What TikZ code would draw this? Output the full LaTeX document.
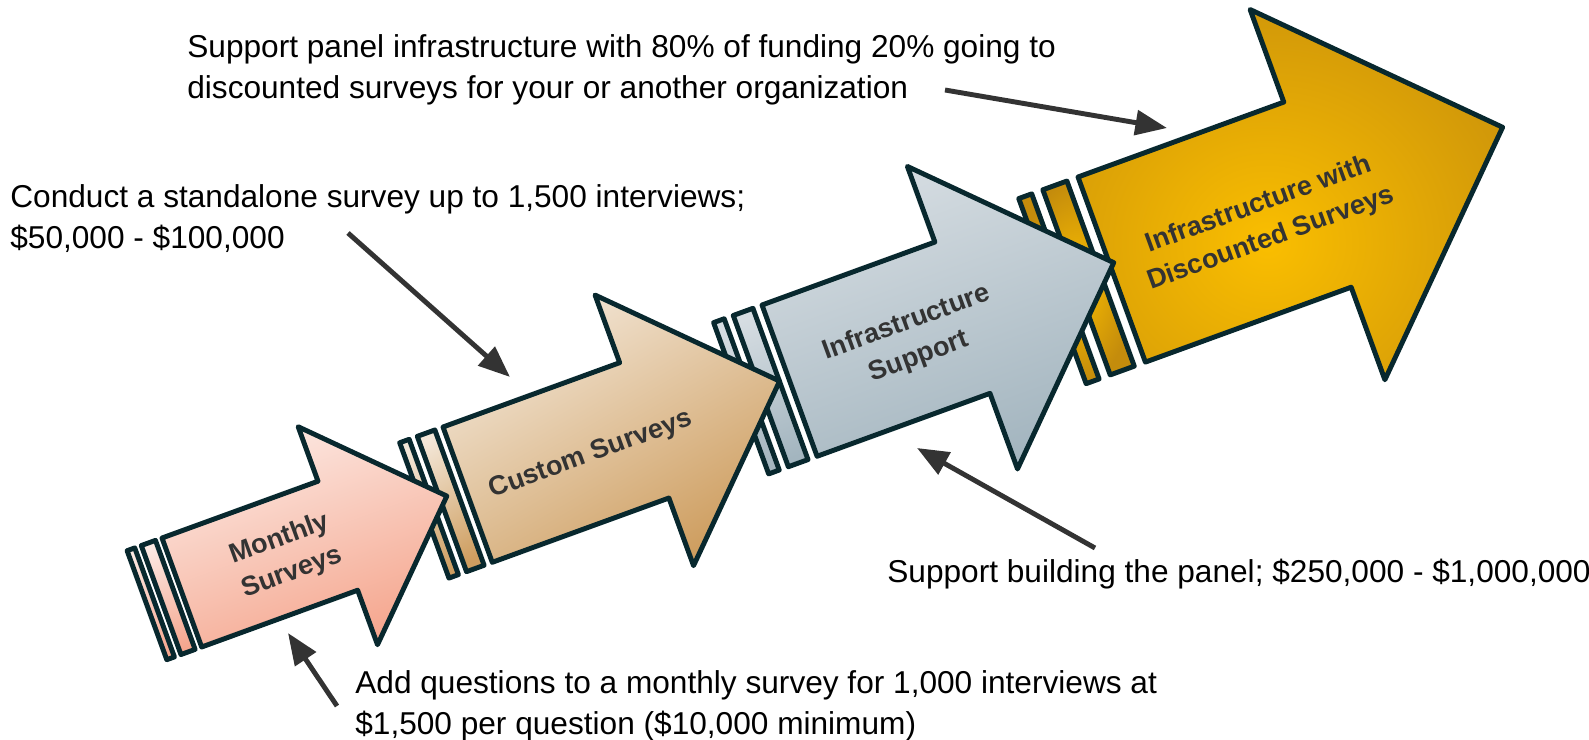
\documentclass[tikz,border=0pt]{standalone}
\usepackage{fontspec}
\setmainfont{Liberation Sans}
\usetikzlibrary{arrows.meta}
\definecolor{rim}{RGB}{8,40,46}
\definecolor{ink}{RGB}{51,51,51}
\definecolor{pinkA}{RGB}{252,233,227}
\definecolor{pinkB}{RGB}{245,166,142}
\definecolor{tanA}{RGB}{243,231,216}
\definecolor{tanB}{RGB}{206,158,96}
\definecolor{greyA}{RGB}{214,221,226}
\definecolor{greyB}{RGB}{163,181,191}
\definecolor{goldA}{RGB}{250,190,0}
\definecolor{goldB}{RGB}{196,140,12}
% arrow body: #1 = width, #2 = body length
\newcommand*{\bigarrow}[2]{(0,0) -- (#2,0) -- (#2,-#1/2) -- (#2+#1,#1/2) -- (#2,1.5*#1) -- (#2,#1) -- (0,#1) -- cycle}
\newcommand*{\stripes}[1]{(-0.32*#1,0) rectangle (-0.25*#1,#1) (-0.19*#1,0) rectangle (-0.06*#1,#1)}
\newcommand*{\notefont}{\fontsize{18pt}{23.4pt}\selectfont}
\newcommand*{\arrfont }{\fontsize{15.4pt}{20.5pt}\selectfont\bfseries}

\begin{document}
\begin{tikzpicture}[x=0.02cm, y=-0.02cm,
    outline/.style={draw=rim, line width=2.8pt, line join=round},
    pinkfill/.style={top color=pinkA, bottom color=pinkB, shading angle=20},
    tanfill/.style={top color=tanA, middle color=tanA!85!tanB, bottom color=tanB, shading angle=30},
    greyfill/.style={left color=greyA, right color=greyB, shading angle=20},
    goldfill/.style={inner color=goldA, outer color=goldB},
    arrowtext/.style={font=\arrfont, text=ink, align=center, rotate=20, inner sep=0pt},
    note/.style={font=\notefont, align=left, anchor=west, inner sep=0pt},
    pointer/.style={draw=ink, line width=2.8pt, -{Triangle[length=18pt,width=14pt]}}]
    \useasboundingbox (0,0) rectangle (1589,740);

    % arrows, back to front
    \begin{scope}[shift={(1078,177)}, rotate=20]
        \shade [outline, goldfill] \stripes{197};
        \fill [goldB] \bigarrow{197}{219};
        \begin{scope}
            \clip \bigarrow{197}{219};
            \shade [goldfill] (165,100) circle (300);
        \end{scope}
        \draw [outline] \bigarrow{197}{219};
    \end{scope}
    \begin{scope}[shift={(762,305)}, rotate=20]
        \shade [outline, greyfill] \stripes{161};
        \shade [outline, greyfill] \bigarrow{161}{184};
    \end{scope}
    \begin{scope}[shift={(443,427)}, rotate=20]
        \shade [outline, tanfill] \stripes{144};
        \shade [outline, tanfill] \bigarrow{144}{188};
    \end{scope}
    \begin{scope}[shift={(162,538)}, rotate=20]
        \shade [outline, pinkfill] \stripes{116};
        \shade [outline, pinkfill] \bigarrow{116}{166};
    \end{scope}

    \node [arrowtext] (monthly)   at ( 286,556) {Monthly\\Surveys};
    \node [arrowtext] (custom)    at ( 591,455) {Custom Surveys};
    \node [arrowtext] (infra)     at ( 913,340) {Infrastructure\\Support};
    \node [arrowtext] (infradisc) at (1265,222) {Infrastructure with\\Discounted Surveys};

    % notes
    \node [note] (panelnote)   at (187, 70) {Support panel infrastructure with 80\% of funding 20\% going to\\discounted surveys for your or another organization};
    \node [note] (customnote)  at ( 10,219) {Conduct a standalone survey up to 1,500 interviews;\\\$50,000 - \$100,000};
    \node [note] (buildnote)   at (887,574) {Support building the panel; \$250,000 - \$1,000,000};
    \node [note] (monthlynote) at (355,706) {Add questions to a monthly survey for 1,000 interviews at\\\$1,500 per question (\$10,000 minimum)};

    \coordinate (panelfrom)   at ( 945, 90);
    \coordinate (panelto)     at (1167,128);
    \coordinate (customfrom)  at ( 348,233);
    \coordinate (customto)    at ( 510,377);
    \coordinate (buildfrom)   at (1095,548);
    \coordinate (buildto)     at ( 917,448);
    \coordinate (monthlyfrom) at ( 337,706);
    \coordinate (monthlyto)   at ( 288,633);
    \draw [pointer] (panelfrom)   -- (panelto);
    \draw [pointer] (customfrom)  -- (customto);
    \draw [pointer] (buildfrom)   -- (buildto);
    \draw [pointer] (monthlyfrom) -- (monthlyto);
\end{tikzpicture}
\end{document}
